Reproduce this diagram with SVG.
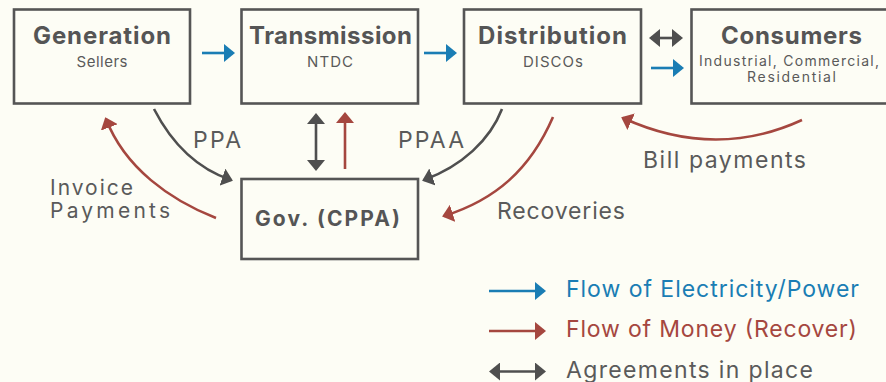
<svg xmlns="http://www.w3.org/2000/svg" width="886" height="382" viewBox="0 0 886 382">
  <style>
    .box { fill: none; stroke: #555555; stroke-width: 2.6; }
    .title { font-family: Inter, "Open Sans", "DejaVu Sans", sans-serif; font-weight: 700; font-size: 24px; fill: #555555; text-anchor: middle; }
    .sub { font-family: Inter, "Open Sans", "DejaVu Sans", sans-serif; font-size: 15px; fill: #5a5a5a; text-anchor: middle; }
    .lbl { font-family: Inter, "Open Sans", "DejaVu Sans", sans-serif; font-size: 23px; fill: #5a5a5a; }
    .blue { fill: none; stroke: #1A7DB4; stroke-width: 2.6; }
    .red { fill: none; stroke: #A5473F; stroke-width: 2.6; }
    .dark { fill: none; stroke: #4F4F4F; stroke-width: 2.6; }
  </style>
  <defs>
    <marker id="ab" markerUnits="userSpaceOnUse" viewBox="0 0 11 18" markerWidth="11" markerHeight="18" refX="9" refY="9" orient="auto-start-reverse">
      <path d="M0,0 L11,9 L0,18 z" fill="#1A7DB4"/>
    </marker>
    <marker id="ar" markerUnits="userSpaceOnUse" viewBox="0 0 11 18" markerWidth="11" markerHeight="18" refX="9" refY="9" orient="auto-start-reverse">
      <path d="M0,0 L11,9 L0,18 z" fill="#A5473F"/>
    </marker>
    <marker id="ad" markerUnits="userSpaceOnUse" viewBox="0 0 11 18" markerWidth="11" markerHeight="18" refX="9" refY="9" orient="auto-start-reverse">
      <path d="M0,0 L11,9 L0,18 z" fill="#4F4F4F"/>
    </marker>
  </defs>
  <rect width="886" height="382" fill="#FDFDF5"/>

  <g id="connectors">
    <line class="blue" x1="202" y1="53" x2="233" y2="53" marker-end="url(#ab)"/>
    <line class="blue" x1="424" y1="53" x2="455" y2="53" marker-end="url(#ab)"/>
    <line class="blue" x1="651" y1="68" x2="682" y2="68" marker-end="url(#ab)"/>
    <line class="dark" x1="651" y1="38" x2="681" y2="38" marker-start="url(#ad)" marker-end="url(#ad)"/>
    <line class="dark" x1="316" y1="115" x2="316" y2="169" marker-start="url(#ad)" marker-end="url(#ad)"/>
    <line class="red" x1="345" y1="169" x2="345" y2="114" marker-end="url(#ar)"/>
    <path class="dark" d="M154,109 C170,140 195,168 231,180" marker-end="url(#ad)"/>
    <path class="red" d="M216,218 C170,200 125,168 106,119" marker-end="url(#ar)"/>
    <path class="dark" d="M502,109 C490,140 462,166 424,180" marker-end="url(#ad)"/>
    <path class="red" d="M553,117 C530,170 495,200 444,216" marker-end="url(#ar)"/>
    <path class="red" d="M802,120 Q715,160 623,118" marker-end="url(#ar)"/>
    <line class="blue" x1="489" y1="291" x2="544" y2="291" marker-end="url(#ab)"/>
    <line class="red" x1="489" y1="331" x2="544" y2="331" marker-end="url(#ar)"/>
    <line class="dark" x1="491" y1="371.5" x2="544" y2="371.5" marker-start="url(#ad)" marker-end="url(#ad)"/>
  </g>

  <g id="generation">
    <rect class="box" x="14" y="9.5" width="176" height="94"/>
    <text class="title" x="102" y="44" textLength="138">Generation</text>
    <text class="sub" x="102" y="67" textLength="51">Sellers</text>
  </g>
  <g id="transmission">
    <rect class="box" x="241.5" y="9.5" width="176.5" height="94"/>
    <text class="title" x="330.5" y="44" textLength="163">Transmission</text>
    <text class="sub" x="330" y="67" textLength="46">NTDC</text>
  </g>
  <g id="distribution">
    <rect class="box" x="464" y="9.5" width="177" height="94"/>
    <text class="title" x="552.5" y="44" textLength="149">Distribution</text>
    <text class="sub" x="553" y="67" textLength="60">DISCOs</text>
  </g>
  <g id="consumers">
    <rect class="box" x="691.5" y="9.5" width="200" height="94"/>
    <text class="title" x="791.5" y="44" textLength="141">Consumers</text>
    <text class="sub" x="789" y="66" style="font-size:14px" textLength="180">Industrial, Commercial,</text>
    <text class="sub" x="791.5" y="82" style="font-size:14px" textLength="89">Residential</text>
  </g>
  <g id="gov">
    <rect class="box" x="241.5" y="179" width="176.5" height="80"/>
    <text class="title" x="327.5" y="226" style="font-size:21px" textLength="145">Gov. (CPPA)</text>
  </g>

  <g id="labels">
    <text class="lbl" x="193" y="148" textLength="48">PPA</text>
    <text class="lbl" x="398" y="148" textLength="66">PPAA</text>
    <text class="lbl" x="50" y="195" style="font-size:21px" textLength="83">Invoice</text>
    <text class="lbl" x="50" y="218" style="font-size:21px" textLength="120">Payments</text>
    <text class="lbl" x="497" y="219" textLength="128">Recoveries</text>
    <text class="lbl" x="643" y="168" textLength="163">Bill payments</text>
  </g>

  <g id="legend">
    <text class="lbl" x="566" y="297" textLength="293" style="fill:#1A7DB4">Flow of Electricity/Power</text>
    <text class="lbl" x="566" y="337" textLength="291" style="fill:#A5473F">Flow of Money (Recover)</text>
    <text class="lbl" x="566" y="377.5" textLength="247">Agreements in place</text>
  </g>
</svg>
